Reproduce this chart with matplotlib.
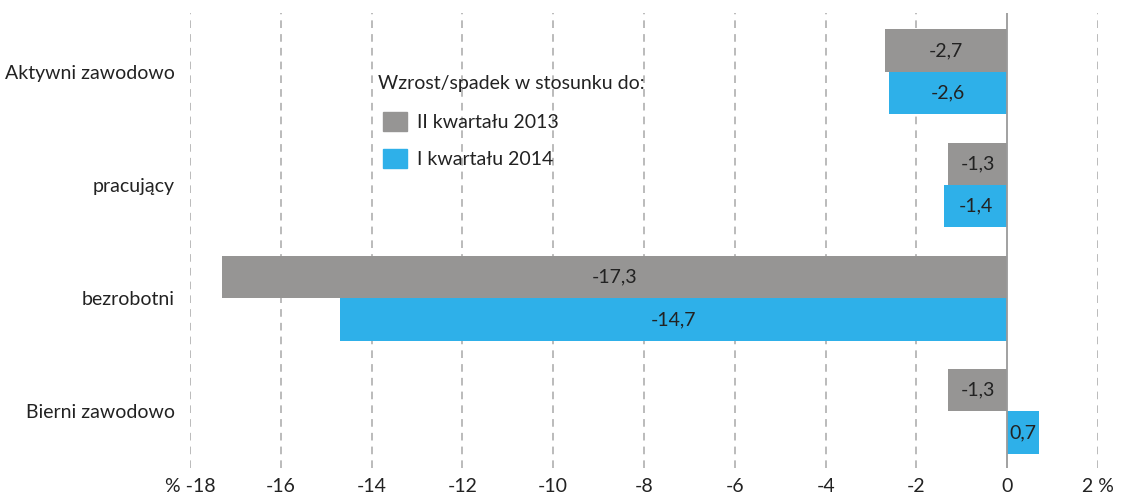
import numpy as np
import matplotlib
matplotlib.use("Agg")
import matplotlib.pyplot as plt
from matplotlib.patches import Patch

categories = ["Aktywni zawodowo", "pracujący", "bezrobotni", "Bierni zawodowo"]
vs_2013 = [-2.7, -1.3, -17.3, -1.3]
vs_2014 = [-2.6, -1.4, -14.7, 0.7]
series_names = ["II kwartału 2013", "I kwartału 2014"]
legend_title = "Wzrost/spadek w stosunku do:"
x_ticks = list(range(-18, 3, 2))
x_tick_labels = ["% -18"] + [str(t) for t in x_ticks[1:-1]] + ["2 %"]

GRAY = "#969594"
BLUE = "#2EB0E9"
TXT = "#222222"

plt.rcParams["font.family"] = ["Lato", "DejaVu Sans"]
plt.rcParams["font.size"] = 14

fig = plt.figure(figsize=(11.31, 4.97), dpi=100, facecolor="w")
ax = fig.add_axes([190 / 1131, 1 - 468 / 497, 908 / 1131, 455 / 497])

y = np.arange(len(categories))
h = 0.375
ax.barh(y - h / 2, vs_2013, height=h, color=GRAY, zorder=2)
ax.barh(y + h / 2, vs_2014, height=h, color=BLUE, zorder=2)

for yy, v in zip(y - h / 2, vs_2013):
    ax.text(v / 2, yy, f"{v:.1f}".replace(".", ","), ha="center", va="center",
            color=TXT, fontsize=14, zorder=3)
for yy, v in zip(y + h / 2, vs_2014):
    ax.text(v / 2, yy, f"{v:.1f}".replace(".", ","), ha="center", va="center",
            color=TXT, fontsize=14, zorder=3)

# dashed grid, solid zero line
for t in x_ticks:
    if t == 0:
        ax.axvline(0, color="#9a9a9a", linewidth=1.3, zorder=4)
    else:
        ax.axvline(t, color="#a8a8a8", linewidth=1.1, linestyle=(0, (5, 4)), zorder=1)

ax.set_xlim(-18, 2)
ax.set_ylim(3.5, -0.52)
ax.set_xticks(x_ticks)
ax.set_xticklabels(x_tick_labels)
ax.set_yticks(y)
ax.set_yticklabels(categories)
ax.tick_params(axis="both", length=0, colors=TXT, labelsize=14)
ax.tick_params(axis="x", pad=7)
ax.tick_params(axis="y", pad=11)
for s in ax.spines.values():
    s.set_visible(False)

# legend title as separate text, legend box below it
fig.text(378 / 1131, 1 - 83 / 497, legend_title, ha="left", va="center",
         color=TXT, fontsize=14)
handles = [Patch(color=GRAY), Patch(color=BLUE)]
leg = ax.legend(handles, series_names, loc="upper left",
                bbox_to_anchor=(383 / 1131, 1 - 112 / 497), bbox_transform=fig.transFigure,
                frameon=False, fontsize=14, handlelength=1.25, borderpad=0,
                borderaxespad=0, handleheight=1.15, handletextpad=0.5,
                labelspacing=0.9)
for t in leg.get_texts():
    t.set_color(TXT)

fig.savefig("out.png", dpi=100)
